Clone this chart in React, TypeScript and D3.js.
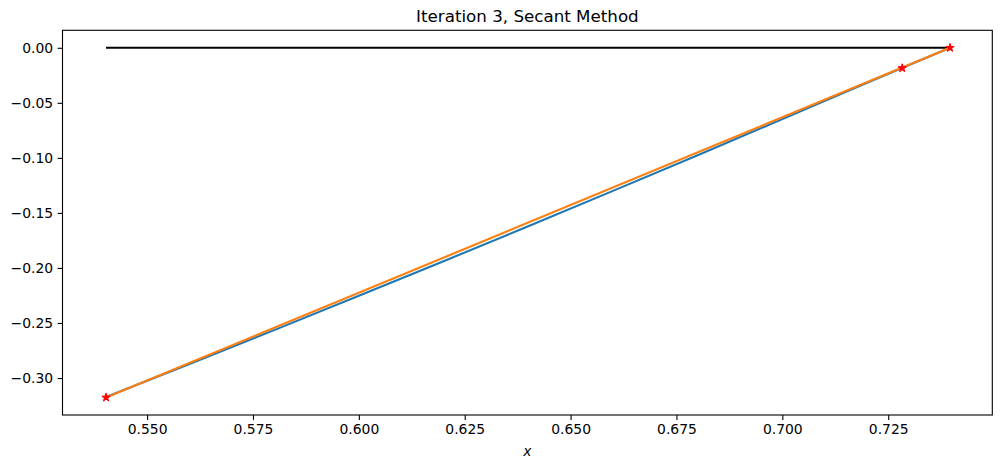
import React, { useRef, useEffect } from 'react';
import * as d3 from 'd3';

const curveX = [0.54, 0.56, 0.58, 0.6, 0.62, 0.64, 0.66, 0.68, 0.7, 0.72, 0.7396];
const curveY = [-0.3177, -0.2873, -0.2565, -0.2253, -0.1939, -0.1621, -0.13, -0.0976, -0.0648, -0.0318, 0.0];

// secant iterates (red stars)
const iterX = [0.5403, 0.7283, 0.7396];
const iterY = [-0.3177, -0.0185, 0.0];

// secant line through the last two points, drawn to the new estimate
const secantX = [0.5403, 0.7396];
const secantY = [-0.3177, 0.0];

// zero line
const zeroX = [0.5403, 0.7396];
const zeroY = [0, 0];

const xTicks = [0.55, 0.575, 0.6, 0.625, 0.65, 0.675, 0.7, 0.725];
const yTicks = [0.0, -0.05, -0.1, -0.15, -0.2, -0.25, -0.3];

export default function App() {
  const ref = useRef<SVGSVGElement>(null);
  useEffect(() => {
    const W = 1002, H = 468;
    const m = { left: 62.5, right: 9.7, top: 30.3, bottom: 53 };
    const svg = d3.select(ref.current);
    svg.selectAll('*').remove();
    svg.attr('width', W).attr('height', H).style('font-family', 'DejaVu Sans');

    const xr = d3.extent(curveX) as [number, number];
    const yr = d3.extent(curveY) as [number, number];
    const xp = (xr[1] - xr[0]) * 0.05;
    const yp = (yr[1] - yr[0]) * 0.05;
    const x = d3.scaleLinear().domain([xr[0] - xp, xr[1] + xp]).range([m.left, W - m.right]);
    const y = d3.scaleLinear().domain([yr[0] - yp, yr[1] + yp]).range([H - m.bottom, m.top]);

    const line = d3.line<[number, number]>().x(d => x(d[0])).y(d => y(d[1]));
    const pairs = (xs: number[], ys: number[]) => xs.map((v, i) => [v, ys[i]] as [number, number]);

    const g = svg.append('g');
    g.append('path').attr('d', line(pairs(zeroX, zeroY))).attr('fill', 'none').attr('stroke', '#000').attr('stroke-width', 2.08);
    g.append('path').attr('d', line(pairs(curveX, curveY))).attr('fill', 'none').attr('stroke', '#1f77b4').attr('stroke-width', 2.08).attr('stroke-linejoin', 'round');
    g.append('path').attr('d', line(pairs(secantX, secantY))).attr('fill', 'none').attr('stroke', '#ff7f0e').attr('stroke-width', 2.08);

    // star marker like matplotlib '*'
    const R = 4.4, r = R * 0.382;
    const starPts: [number, number][] = d3.range(10).map(i => {
      const a = -Math.PI / 2 + (i * Math.PI) / 5;
      const rr = i % 2 === 0 ? R : r;
      return [rr * Math.cos(a), rr * Math.sin(a)];
    });
    const star = d3.line().curve(d3.curveLinearClosed)(starPts);
    pairs(iterX, iterY).forEach(p => {
      g.append('path').attr('d', star).attr('transform', `translate(${x(p[0])},${y(p[1])})`)
        .attr('fill', 'red').attr('stroke', 'red').attr('stroke-width', 1);
    });

    // axes
    const xa = svg.append('g').attr('transform', `translate(0,${H - m.bottom})`)
      .call(d3.axisBottom(x).tickValues(xTicks).tickFormat(d3.format('.3f')).tickSize(4.9).tickPadding(4.5));
    const ya = svg.append('g').attr('transform', `translate(${m.left},0)`)
      .call(d3.axisLeft(y).tickValues(yTicks).tickFormat(d => d3.format('.2f')(+d).replace('-', '\u2212')).tickSize(4.9).tickPadding(4.5));
    [xa, ya].forEach(a => {
      a.select('.domain').remove();
      a.selectAll('line').attr('stroke', '#000').attr('stroke-width', 1.1);
      a.selectAll('text').attr('font-size', 13.9).attr('fill', '#000').attr('font-family', 'DejaVu Sans');
    });

    svg.append('rect').attr('x', m.left).attr('y', m.top)
      .attr('width', W - m.left - m.right).attr('height', H - m.top - m.bottom)
      .attr('fill', 'none').attr('stroke', '#000').attr('stroke-width', 1.1);

    const cx = (m.left + W - m.right) / 2;
    svg.append('text').attr('x', cx).attr('y', 22).attr('text-anchor', 'middle')
      .attr('font-size', 16.7).text('Iteration 3, Secant Method');
    svg.append('text').attr('x', cx).attr('y', 455.5).attr('text-anchor', 'middle')
      .attr('font-size', 13.9).attr('font-style', 'italic').text('x');
  }, []);
  return <svg ref={ref} style={{ position: 'absolute', left: 0, top: 0 }} />;
}
